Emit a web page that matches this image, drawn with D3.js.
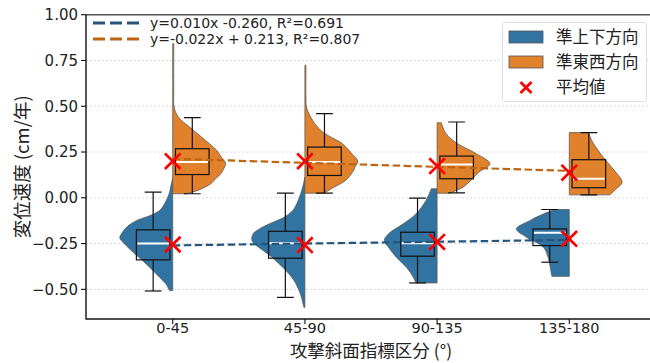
<!DOCTYPE html>
<html lang="ja">
<head>
<meta charset="UTF-8">
<title>変位速度 violin</title>
<script src="https://d3js.org/d3.v7.min.js"></script>
<style>
body { margin: 0; background: #fff; }
svg { display: block; }
text { font-family: "DejaVu Sans", "Noto Sans CJK JP", sans-serif; fill: #222; }
.jp { font-family: "Noto Sans CJK JP", "DejaVu Sans", sans-serif; }
</style>
</head>
<body>
<script>
const categories = ['0-45', '45-90', '90-135', '135-180'];
const yTicks = [-0.5, -0.25, 0, 0.25, 0.5, 0.75, 1.0];

// density profiles: [value, relative width]
const densityVert = [
  [[0.11,0],[0.07,0.03],[0.02,0.07],[-0.03,0.15],[-0.07,0.25],[-0.10,0.45],[-0.124,0.68],[-0.16,0.87],[-0.197,0.97],[-0.22,1.0],[-0.252,0.91],[-0.30,0.74],[-0.343,0.57],[-0.39,0.40],[-0.434,0.25],[-0.47,0.13],[-0.507,0.06]],
  [[0.113,0],[0.06,0.04],[0.022,0.08],[-0.03,0.15],[-0.07,0.23],[-0.088,0.30],[-0.115,0.45],[-0.142,0.67],[-0.17,0.86],[-0.197,0.98],[-0.234,1.0],[-0.26,0.92],[-0.288,0.79],[-0.33,0.60],[-0.38,0.42],[-0.43,0.26],[-0.47,0.17],[-0.53,0.08],[-0.598,0.02]],
  [[0.049,0.11],[-0.015,0.21],[-0.088,0.40],[-0.142,0.64],[-0.197,0.92],[-0.234,1.0],[-0.27,0.92],[-0.325,0.77],[-0.38,0.58],[-0.434,0.45],[-0.465,0.40]],
  [[-0.064,0.28],[-0.10,0.58],[-0.124,0.74],[-0.17,1.0],[-0.215,0.81],[-0.27,0.49],[-0.325,0.40],[-0.38,0.36],[-0.429,0.33]]
];
const densityEW = [
  [[0.842,0.02],[0.6,0.02],[0.49,0.03],[0.44,0.11],[0.386,0.32],[0.35,0.47],[0.313,0.62],[0.26,0.83],[0.213,0.94],[0.19,1.0],[0.15,0.95],[0.131,0.91],[0.104,0.81],[0.077,0.72],[0.04,0.47],[0.022,0.25]],
  [[0.724,0.02],[0.55,0.02],[0.496,0.03],[0.44,0.11],[0.368,0.30],[0.33,0.50],[0.295,0.71],[0.24,0.89],[0.2,1.0],[0.17,0.95],[0.149,0.92],[0.095,0.77],[0.058,0.55],[0.025,0.36]],
  [[0.41,0.08],[0.35,0.17],[0.295,0.39],[0.241,0.74],[0.186,1.0],[0.14,0.79],[0.104,0.67],[0.058,0.49],[0.04,0.36],[0.025,0.23]],
  [[0.356,0.36],[0.3,0.45],[0.222,0.64],[0.15,0.85],[0.085,1.0],[0.05,0.89],[0.016,0.77]]
];

// box stats: [whisker low, q1, median, q3, whisker high]
const boxVert = [[-0.509,-0.339,-0.250,-0.175,0.031],[-0.544,-0.330,-0.248,-0.183,0.025],[-0.465,-0.319,-0.248,-0.188,-0.002],[-0.352,-0.261,-0.191,-0.170,-0.064]];
const boxEW = [[0.022,0.127,0.195,0.268,0.438],[0.025,0.122,0.195,0.277,0.460],[0.027,0.104,0.182,0.228,0.414],[0.016,0.055,0.104,0.208,0.356]];

const meanVert = [-0.255, -0.258, -0.241, -0.224];
const meanEW = [0.200, 0.200, 0.173, 0.137];

const fitVert = {slope: 0.010, intercept: -0.260, label: 'y=0.010x -0.260, R²=0.691'};
const fitEW = {slope: -0.022, intercept: 0.213, label: 'y=-0.022x + 0.213, R²=0.807'};

const W = 650, H = 363;
const mLeft = 86, mRight = 656, mTop = 14.7, mBottom = 319;
const blue = '#3274a1', orange = '#e1812c';
const blueLine = '#25547f', orangeLine = '#c0650f';

const svg = d3.select('body').append('svg').attr('width', W).attr('height', H);

const x = d3.scaleLinear().domain([-0.656, 3.656]).range([mLeft, mRight]);
const y = d3.scaleLinear().domain([-0.662, 1.0]).range([mBottom, mTop]);
const halfW = d3.scaleLinear().domain([0, 1]).range([0, x(0.4) - x(0)]);
const boxOff = x(0.148) - x(0), boxW = x(0.254) - x(0);

svg.append('clipPath').attr('id', 'clip').append('rect')
  .attr('x', mLeft).attr('y', mTop).attr('width', mRight - mLeft).attr('height', mBottom - mTop);

// grid
svg.append('g').selectAll('line').data(yTicks.filter(t => t < 1)).enter().append('line')
  .attr('x1', mLeft).attr('x2', mRight).attr('y1', d => y(d)).attr('y2', d => y(d))
  .attr('stroke', '#cfcfcf').attr('stroke-width', 0.8).attr('stroke-dasharray', '2,2');

const plot = svg.append('g').attr('clip-path', 'url(#clip)');

function violin(profile, i, side) {
  const cx = x(i);
  const area = d3.area()
    .y(d => y(d[0]))
    .x0(cx)
    .x1(d => cx + side * halfW(d[1]))
    .curve(d3.curveCatmullRom);
  plot.append('path').attr('d', area(profile))
    .attr('fill', side < 0 ? blue : orange)
    .attr('stroke', '#5a5a5a').attr('stroke-width', 0.8);
}
densityVert.forEach((p, i) => violin(p, i, -1));
densityEW.forEach((p, i) => violin(p, i, 1));

function box(s, i, side) {
  const bx = x(i) + side * boxOff;
  const g = plot.append('g');
  g.append('line').attr('x1', bx).attr('x2', bx).attr('y1', y(s[0])).attr('y2', y(s[1]))
    .attr('stroke', '#111').attr('stroke-width', 1.2);
  g.append('line').attr('x1', bx).attr('x2', bx).attr('y1', y(s[3])).attr('y2', y(s[4]))
    .attr('stroke', '#111').attr('stroke-width', 1.2);
  [s[0], s[4]].forEach(v => g.append('line')
    .attr('x1', bx - boxW / 4).attr('x2', bx + boxW / 4).attr('y1', y(v)).attr('y2', y(v))
    .attr('stroke', '#111').attr('stroke-width', 1.2));
  g.append('rect').attr('x', bx - boxW / 2).attr('width', boxW)
    .attr('y', y(s[3])).attr('height', y(s[1]) - y(s[3]))
    .attr('fill', 'none').attr('stroke', '#111').attr('stroke-width', 1.2);
  g.append('line').attr('x1', bx - boxW / 2 + 1).attr('x2', bx + boxW / 2 - 1)
    .attr('y1', y(s[2])).attr('y2', y(s[2]))
    .attr('stroke', '#fff').attr('stroke-width', 2);
}
boxVert.forEach((s, i) => box(s, i, -1));
boxEW.forEach((s, i) => box(s, i, 1));

// regression lines
[[fitVert, blueLine], [fitEW, orangeLine]].forEach(([f, c]) => {
  plot.append('line')
    .attr('x1', x(0)).attr('x2', x(categories.length - 1))
    .attr('y1', y(f.intercept)).attr('y2', y(f.intercept + f.slope * (categories.length - 1)))
    .attr('stroke', c).attr('stroke-width', 2.2).attr('stroke-dasharray', '7.5,3.5');
});

// mean markers
function cross(g, cx, cy, r) {
  g.append('path').attr('d', `M${cx - r},${cy - r}L${cx + r},${cy + r}M${cx - r},${cy + r}L${cx + r},${cy - r}`)
    .attr('stroke', '#ff0000').attr('stroke-width', 2.7).attr('fill', 'none');
}
meanVert.forEach((m, i) => cross(plot, x(i), y(m), 7.8));
meanEW.forEach((m, i) => cross(plot, x(i), y(m), 7.8));

// axes
svg.append('line').attr('x1', mLeft).attr('x2', W).attr('y1', mTop).attr('y2', mTop)
  .attr('stroke', '#555').attr('stroke-width', 1.6);
svg.append('line').attr('x1', mLeft).attr('x2', mLeft).attr('y1', mTop).attr('y2', mBottom + 0.5)
  .attr('stroke', '#111').attr('stroke-width', 1.4);
svg.append('line').attr('x1', mLeft).attr('x2', W).attr('y1', mBottom).attr('y2', mBottom)
  .attr('stroke', '#111').attr('stroke-width', 1.4);

const yAx = svg.append('g');
yTicks.forEach(t => {
  yAx.append('line').attr('x1', mLeft - 5).attr('x2', mLeft).attr('y1', y(t)).attr('y2', y(t))
    .attr('stroke', '#111').attr('stroke-width', 1.1);
  yAx.append('text').attr('x', mLeft - 8).attr('y', y(t)).attr('dy', '0.36em')
    .attr('text-anchor', 'end').style('font-size', '15px')
    .text(d3.format('.2f')(t).replace('-', '\u2212'));
});
const xAx = svg.append('g');
categories.forEach((c, i) => {
  xAx.append('line').attr('x1', x(i)).attr('x2', x(i)).attr('y1', mBottom).attr('y2', mBottom + 5)
    .attr('stroke', '#111').attr('stroke-width', 1.1);
  xAx.append('text').attr('x', x(i)).attr('y', 333).attr('text-anchor', 'middle')
    .style('font-size', '14.5px').text(c);
});

svg.append('text').attr('class', 'jp').attr('x', (mLeft + mRight) / 2).attr('y', 357)
  .attr('text-anchor', 'middle').style('font-size', '17.5px').text('攻撃斜面指標区分 (°)');
svg.append('text').attr('class', 'jp')
  .attr('transform', `translate(22,${(mTop + mBottom) / 2}) rotate(-90)`)
  .attr('text-anchor', 'middle').attr('dy', '0.36em').style('font-size', '18.5px')
  .text('変位速度 (cm/年)');

// legend: fits
[[fitVert, blueLine, 23], [fitEW, orangeLine, 39]].forEach(([f, c, ly]) => {
  svg.append('line').attr('x1', 93).attr('x2', 140).attr('y1', ly).attr('y2', ly)
    .attr('stroke', c).attr('stroke-width', 3).attr('stroke-dasharray', '12,5');
  svg.append('text').attr('x', 150).attr('y', ly).attr('dy', '0.36em')
    .style('font-size', '14px').text(f.label);
});

// legend: groups
const lg = svg.append('g');
lg.append('rect').attr('x', 502.5).attr('y', 22.5).attr('width', 144).attr('height', 79)
  .attr('rx', 3).attr('fill', '#fff').attr('fill-opacity', 0.85)
  .attr('stroke', '#ddd').attr('stroke-width', 1);
[['準上下方向', blue, 37], ['準東西方向', orange, 62]].forEach(([t, c, ly]) => {
  lg.append('rect').attr('x', 509).attr('y', ly - 6).attr('width', 34).attr('height', 12)
    .attr('fill', c).attr('stroke', '#555').attr('stroke-width', 0.8);
  lg.append('text').attr('class', 'jp').attr('x', 556).attr('y', ly).attr('dy', '0.36em')
    .style('font-size', '16.5px').text(t);
});
cross(lg, 526, 87.5, 5.5);
lg.append('text').attr('class', 'jp').attr('x', 556).attr('y', 87.5).attr('dy', '0.36em')
  .style('font-size', '16.5px').text('平均値');
</script>
</body>
</html>
